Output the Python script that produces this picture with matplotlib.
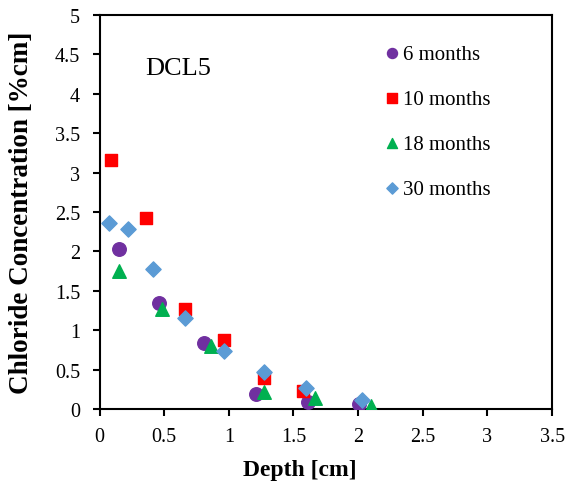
import matplotlib
matplotlib.use("Agg")
import matplotlib.pyplot as plt

plt.rcParams['font.family'] = ['Liberation Serif', 'DejaVu Serif']

x6 = [0.15, 0.46, 0.81, 1.21, 1.61, 2.01]
y6 = [2.03, 1.34, 0.84, 0.19, 0.085, 0.06]
x10 = [0.09, 0.36, 0.66, 0.96, 1.27, 1.57]
y10 = [3.16, 2.42, 1.27, 0.87, 0.39, 0.23]
x18 = [0.15, 0.48, 0.86, 1.27, 1.67, 2.10]
y18 = [1.75, 1.265, 0.80, 0.22, 0.135, 0.04]
x30 = [0.07, 0.224, 0.41, 0.66, 0.96, 1.27, 1.60, 2.03]
y30 = [2.36, 2.28, 1.78, 1.15, 0.73, 0.465, 0.26, 0.12]

fig = plt.figure(figsize=(5.7, 4.89), dpi=100)
ax = fig.add_axes([0.1746, 0.1616, 0.794, 0.8057])

ax.scatter(x6, y6, marker='o', s=95, color='#7030A0', label='6 months', zorder=3)
ax.scatter(x10, y10, marker='s', s=80, color='#FF0000', label='10 months', zorder=3)
ax.scatter(x18, y18, marker='^', s=95, color='#00B050', label='18 months', zorder=3)
ax.scatter(x30, y30, marker='D', s=60, color='#5B9BD5', label='30 months', zorder=3)

ax.set_xlim(0, 3.5)
ax.set_ylim(0, 5)
ax.set_xticks([0, 0.5, 1, 1.5, 2, 2.5, 3, 3.5])
ax.set_xticklabels(['0', '0.5', '1', '1.5', '2', '2.5', '3', '3.5'])
ax.set_yticks([0, 0.5, 1, 1.5, 2, 2.5, 3, 3.5, 4, 4.5, 5])
ax.set_yticklabels(['0', '0.5', '1', '1.5', '2', '2.5', '3', '3.5', '4', '4.5', '5'])
for s in ['left', 'bottom', 'top', 'right']:
    ax.spines[s].set_linewidth(1.5)
ax.tick_params(axis='both', labelsize=14.5, width=1.5, length=5, direction='out')
ax.tick_params(axis='x', pad=8)
ax.tick_params(axis='y', pad=9)

ax.set_xlabel('Depth [cm]', fontsize=17, fontweight='bold')
ax.set_ylabel('Chloride Concentration [%cm]', fontsize=19.5, fontweight='bold')
ax.xaxis.set_label_coords(0.443, -0.127)
ax.yaxis.set_label_coords(-0.145, 0.5)

ax.text(0.35, 4.33, 'DCL5', fontsize=19, va='center', ha='left')

ax.legend(loc='upper left', bbox_to_anchor=(0.604, 0.947), frameon=False,
          fontsize=15, labelspacing=1.22, handlelength=1.0, handletextpad=0.05,
          markerscale=0.74, borderaxespad=0)

fig.savefig('out.png', dpi=100)
